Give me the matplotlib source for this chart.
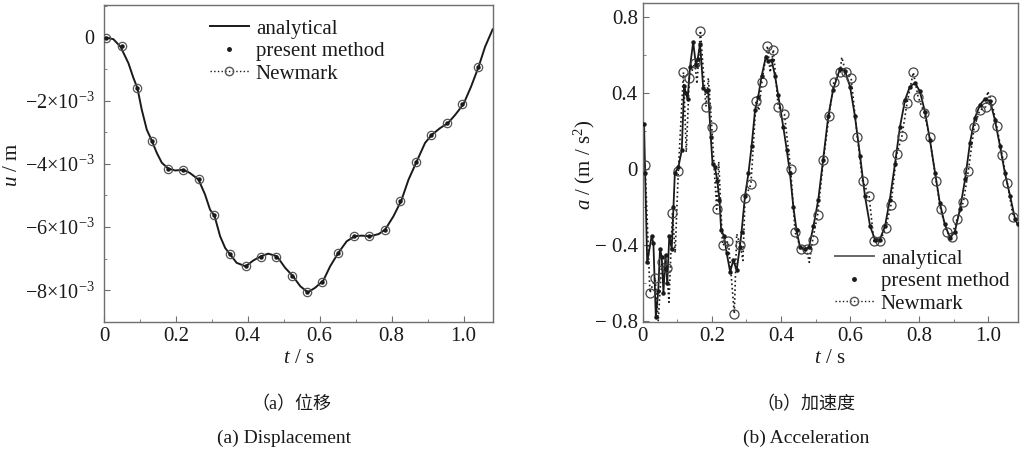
import matplotlib
matplotlib.use("Agg")
import matplotlib.pyplot as plt
from matplotlib.ticker import MultipleLocator, FixedLocator, FixedFormatter
from matplotlib.lines import Line2D

plt.rcParams['font.family'] = ['Liberation Serif', 'Noto Sans CJK SC', 'DejaVu Sans']
plt.rcParams['mathtext.fontset'] = 'custom'
plt.rcParams['mathtext.rm'] = 'Liberation Serif'
plt.rcParams['mathtext.it'] = 'Liberation Serif:italic'

# ---------------- (a) displacement ----------------
disp_t = [0.0, 0.026, 0.046, 0.068, 0.082, 0.093, 0.105, 0.119, 0.133, 0.147, 0.161,
          0.179, 0.198, 0.221, 0.239, 0.263, 0.281, 0.295, 0.307, 0.323, 0.337, 0.351,
          0.369, 0.394, 0.416, 0.437, 0.457, 0.481, 0.504, 0.524, 0.546, 0.567, 0.587,
          0.610, 0.629, 0.652, 0.675, 0.697, 0.717, 0.740, 0.764, 0.782, 0.805, 0.827,
          0.847, 0.870, 0.893, 0.912, 0.935, 0.957, 0.977, 1.000, 1.021, 1.042, 1.060, 1.081]
disp_u = [0.0, -0.06, -0.30, -0.82, -1.29, -1.61, -2.29, -2.92, -3.27, -3.66, -3.97,
          -4.15, -4.21, -4.19, -4.29, -4.50, -4.97, -5.45, -5.63, -6.29, -6.66, -6.87,
          -7.13, -7.24, -7.05, -6.92, -6.84, -6.92, -7.29, -7.53, -7.87, -8.06, -7.92,
          -7.69, -7.24, -6.81, -6.45, -6.29, -6.27, -6.29, -6.22, -6.08, -5.66, -5.16,
          -4.50, -3.92, -3.34, -3.08, -2.87, -2.71, -2.45, -2.11, -1.56, -0.93, -0.30, 0.25]
disp_pts_t = [0.005, 0.049, 0.091, 0.134, 0.179, 0.220, 0.264, 0.306, 0.350, 0.394,
              0.436, 0.479, 0.522, 0.566, 0.607, 0.652, 0.695, 0.738, 0.781, 0.824,
              0.867, 0.910, 0.954, 0.996, 1.040]
disp_pts_u = [-0.01, -0.29, -1.61, -3.27, -4.16, -4.19, -4.49, -5.63, -6.85, -7.24,
              -6.95, -6.93, -7.55, -8.06, -7.72, -6.82, -6.29, -6.29, -6.08, -5.18,
              -3.93, -3.08, -2.72, -2.12, -0.93]

# ---------------- (b) acceleration ----------------
acc_t = [0.004, 0.007, 0.013, 0.026, 0.031, 0.038, 0.045, 0.050, 0.055, 0.060, 0.066,
         0.071, 0.077, 0.084, 0.089, 0.093, 0.103, 0.113, 0.120, 0.125, 0.130, 0.137,
         0.146, 0.154, 0.159, 0.166, 0.175, 0.182, 0.189, 0.197, 0.202, 0.209, 0.216,
         0.222, 0.227, 0.235, 0.243, 0.253, 0.262, 0.272, 0.281, 0.286, 0.296, 0.306,
         0.315, 0.325, 0.334, 0.344, 0.356, 0.363, 0.373, 0.383, 0.392, 0.407, 0.417,
         0.426, 0.436, 0.445, 0.455, 0.470, 0.481, 0.494, 0.508, 0.522, 0.537, 0.551,
         0.571, 0.585, 0.600, 0.614, 0.629, 0.643, 0.658, 0.672, 0.686, 0.701, 0.715,
         0.730, 0.744, 0.759, 0.773, 0.788, 0.802, 0.817, 0.831, 0.846, 0.860, 0.874,
         0.889, 0.903, 0.918, 0.933, 0.947, 0.961, 0.976, 0.990, 1.005, 1.019, 1.034,
         1.048, 1.063, 1.077, 1.085]
acc_a = [0.24, -0.02, -0.49, -0.35, -0.39, -0.78, -0.64, -0.42, -0.46, -0.65, -0.45,
         -0.60, -0.35, -0.42, -0.20, -0.02, 0.01, 0.10, 0.44, 0.40, 0.37, 0.54,
         0.67, 0.55, 0.58, 0.66, 0.43, 0.41, 0.42, 0.17, 0.03, 0.01, -0.06,
         -0.16, -0.32, -0.35, -0.44, -0.54, -0.48, -0.53, -0.41, -0.33, -0.14, -0.02,
         0.12, 0.31, 0.38, 0.49, 0.59, 0.57, 0.575, 0.49, 0.39, 0.22, 0.10,
         -0.02, -0.20, -0.32, -0.41, -0.42, -0.41, -0.30, -0.16, 0.05, 0.28, 0.42,
         0.53, 0.52, 0.435, 0.28, 0.07, -0.14, -0.30, -0.37, -0.37, -0.30, -0.16,
         0.03, 0.22, 0.365, 0.435, 0.455, 0.41, 0.30, 0.155, -0.02, -0.18, -0.29,
         -0.36, -0.33, -0.21, -0.05, 0.14, 0.27, 0.34, 0.37, 0.36, 0.26, 0.12,
         -0.02, -0.14, -0.26, -0.29]
newmark_t = [0.007, 0.021, 0.036, 0.055, 0.069, 0.086, 0.103, 0.118, 0.135, 0.151,
             0.167, 0.183, 0.200, 0.214, 0.231, 0.248, 0.265, 0.282, 0.296, 0.313,
             0.328, 0.345, 0.361, 0.378, 0.392, 0.410, 0.428, 0.441, 0.458, 0.474,
             0.492, 0.506, 0.523, 0.539, 0.553, 0.571, 0.587, 0.603, 0.621, 0.636,
             0.655, 0.669, 0.686, 0.703, 0.718, 0.735, 0.750, 0.765, 0.783, 0.797,
             0.815, 0.830, 0.849, 0.862, 0.880, 0.894, 0.910, 0.928, 0.942, 0.959,
             0.975, 0.993, 1.009, 1.024, 1.040, 1.055, 1.072]
newmark_a = [0.02, -0.65, -0.57, -0.49, -0.52, -0.23, -0.01, 0.51, 0.48, 0.56,
             0.73, 0.33, 0.22, -0.21, -0.40, -0.38, -0.76, -0.40, -0.15, -0.08,
             0.36, 0.46, 0.65, 0.63, 0.33, 0.29, 0.00, -0.33, -0.42, -0.42,
             -0.37, -0.24, 0.05, 0.28, 0.46, 0.51, 0.51, 0.48, 0.17, -0.06,
             -0.14, -0.38, -0.38, -0.31, -0.19, 0.08, 0.175, 0.35, 0.51, 0.38,
             0.295, 0.17, -0.06, -0.21, -0.33, -0.354, -0.26, -0.17, -0.01, 0.22,
             0.31, 0.33, 0.365, 0.23, 0.075, -0.074, -0.25]
# intermediate Newmark steps (dotted line excursions between marked circles)
newmark_step_t = [0.045, 0.076, 0.094, 0.126, 0.157, 0.190, 0.220, 0.272, 0.290,
                  0.336, 0.369, 0.482, 0.576, 0.998]
newmark_step_a = [-0.80, -0.70, -0.44, 0.09, 0.45, 0.48, 0.04, -0.34, -0.48,
                  0.31, 0.51, -0.49, 0.59, 0.41]

ink = '#1a1a1a'
spine_c = '#6e6e6e'
fs = 15

fig = plt.figure(figsize=(10.27, 4.53), dpi=100)
axL = fig.add_axes([104/1027, 1-322/453, 389/1027, 317/453])
axR = fig.add_axes([642.7/1027, 1-322/453, 375/1027, 319.3/453])


def style(ax):
    for s in ax.spines.values():
        s.set_color(spine_c)
        s.set_linewidth(1.0)
    ax.tick_params(which='both', direction='in', colors=spine_c, labelcolor=ink,
                   labelsize=fs, top=False, right=False)
    ax.tick_params(which='major', length=4)
    ax.tick_params(which='minor', length=2.5)
    ax.xaxis.set_major_locator(FixedLocator([0, 0.2, 0.4, 0.6, 0.8, 1.0]))
    ax.xaxis.set_major_formatter(FixedFormatter(['0', '0.2', '0.4', '0.6', '0.8', '1.0']))
    ax.xaxis.set_minor_locator(MultipleLocator(0.1))


# ---- left
axL.plot(disp_t, [v*1e-3 for v in disp_u], '-', color=ink, lw=1.4)
axL.plot(disp_pts_t, [v*1e-3 for v in disp_pts_u], 'o', ms=6, mfc='none',
         mec='#555555', mew=0.9, zorder=3)
axL.plot(disp_pts_t, [v*1e-3 for v in disp_pts_u], 'o', color=ink, ms=2.2, zorder=4)
axL.set_xlim(0, 1.082)
axL.set_ylim(-9.0e-3, 1.02e-3)
style(axL)
axL.yaxis.set_major_locator(FixedLocator([0, -2e-3, -4e-3, -6e-3, -8e-3]))
axL.yaxis.set_major_formatter(FixedFormatter(
    ['0'] + ['\u2212%d\u00d710$^{\\mathregular{\u22123}}$' % k for k in (2, 4, 6, 8)]))
axL.yaxis.set_minor_locator(MultipleLocator(1e-3))
axL.tick_params(axis='y', which='major', labelsize=14.5, pad=7)
axL.set_xlabel(r'$t$ / s', fontsize=fs, color=ink, labelpad=2)
axL.set_ylabel(r'$u$ / m', fontsize=fs, color=ink)
axL.yaxis.set_label_coords((22-104)/389, (322-165)/317)

# ---- right
axR.plot(acc_t, acc_a, '-', color=ink, lw=1.3)
nm_line = sorted(zip(newmark_t + newmark_step_t, newmark_a + newmark_step_a))
axR.plot([p[0] for p in nm_line], [p[1] for p in nm_line], ':', color=ink, lw=1.2)
axR.plot(newmark_t, newmark_a, 'o', ms=6.5, mfc='none', mec='#444444', mew=0.9)
axR.plot(acc_t, acc_a, 'o', color=ink, ms=2.2, zorder=4)
axR.set_xlim(0, 1.085)
axR.set_ylim(-0.804, 0.877)
style(axR)
axR.yaxis.set_major_locator(FixedLocator([-0.8, -0.4, 0, 0.4, 0.8]))
axR.yaxis.set_major_formatter(FixedFormatter(['\u2212 0.8', '\u2212 0.4', '0', '0.4', '0.8']))
axR.yaxis.set_minor_locator(MultipleLocator(0.2))
axR.set_xlabel(r'$t$ / s', fontsize=fs, color=ink, labelpad=2)
axR.set_ylabel(r'$a$ / (m / s$^2$)', fontsize=fs, color=ink)
axR.yaxis.set_label_coords((597-642.7)/375, (322-165)/319.3)


def make_handles(line_color):
    return [Line2D([], [], color=line_color, lw=1.4),
            Line2D([], [], ls='none', marker='o', color=ink, ms=2.5),
            Line2D([], [], ls=':', color=ink, lw=1.0, marker='o', ms=6, mfc='none', mec='#555555')]


labels = ['analytical', 'present method', 'Newmark']
for ax, anchor, hc in ((axL, ((210-104)/389, (322-19)/317), ink),
                       (axR, ((835-642.7)/375, (322-249)/319.3), '#666666')):
    leg = ax.legend(make_handles(hc), labels, loc='upper left', bbox_to_anchor=anchor,
                    frameon=False, fontsize=fs, handlelength=1.85, handletextpad=0.35,
                    labelspacing=0.14, borderpad=0, borderaxespad=0, numpoints=1)
    for t in leg.get_texts():
        t.set_color(ink)

# captions
cap_font = ['Liberation Serif', 'Noto Sans CJK SC', 'DejaVu Sans']
fig.text(291/1027, 1-405/453, '（a）位移', ha='center', va='center', fontsize=13, color=ink, family=cap_font)
fig.text(284/1027, 1-438/453, '(a) Displacement', ha='center', va='center', fontsize=14, color=ink, family=cap_font)
fig.text(806/1027, 1-405/453, '（b）加速度', ha='center', va='center', fontsize=13, color=ink, family=cap_font)
fig.text(806/1027, 1-438/453, '(b) Acceleration', ha='center', va='center', fontsize=14, color=ink, family=cap_font)

fig.savefig('out.png', dpi=100)
